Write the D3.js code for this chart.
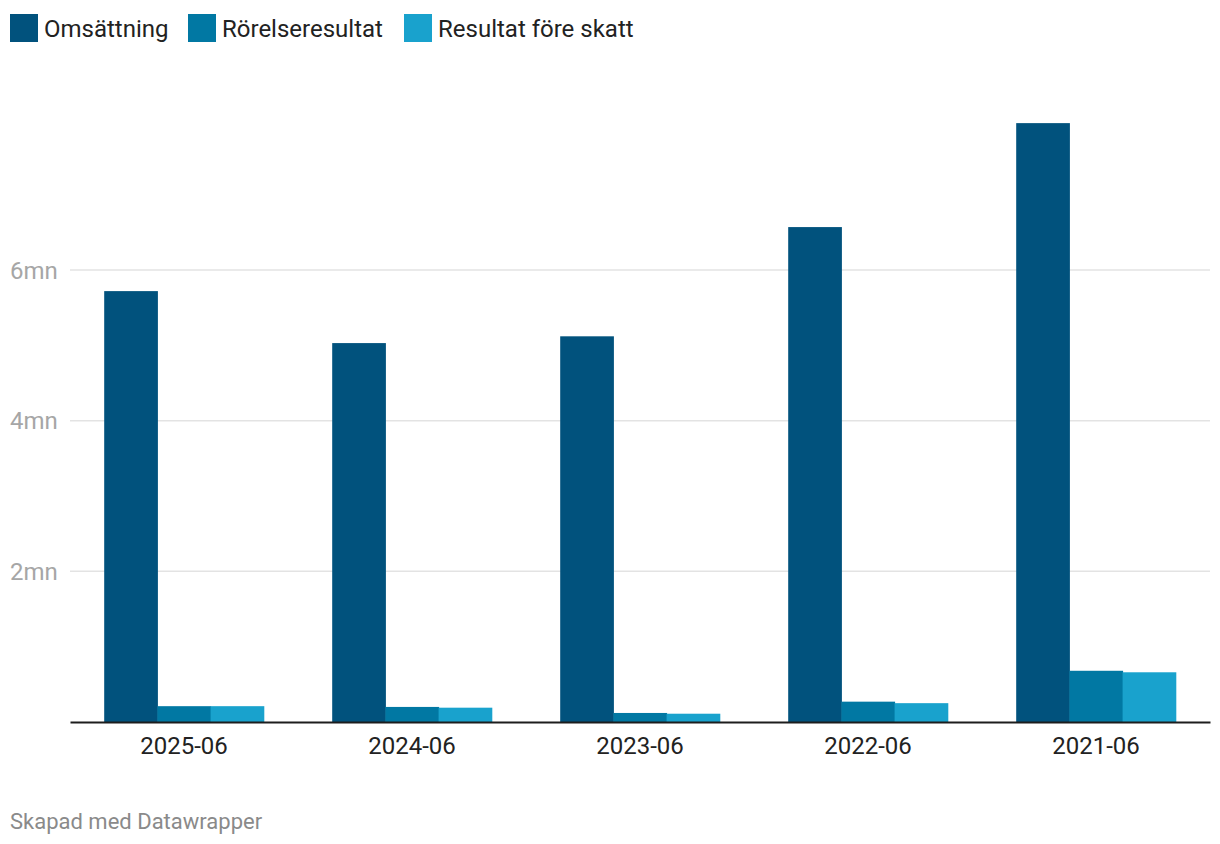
<!DOCTYPE html>
<html>
<head>
<meta charset="utf-8">
<script src="https://cdnjs.cloudflare.com/ajax/libs/d3/7.8.5/d3.min.js"></script>
<style>
  body { margin: 0; background: #fff; font-family: Roboto, "Noto Sans", sans-serif; }
</style>
</head>
<body>
<div id="chart"></div>
<script>
// data, values in millions
var periods = ["2025-06", "2024-06", "2023-06", "2022-06", "2021-06"]
var seriesNames = ["Omsättning", "Rörelseresultat", "Resultat före skatt"]
var omsattning = [5.72, 5.03, 5.12, 6.57, 7.95]
var rorelseresultat = [0.21, 0.20, 0.12, 0.27, 0.68]
var resultatForeSkatt = [0.21, 0.19, 0.11, 0.25, 0.66]
var yTicks = [2, 4, 6]
var colors = ["#01527d", "#0178a3", "#19a2cd"]

var chartWidth = 1220
var chartHeight = 844
var margin = { left: 70, right: 10, top: 119, bottom: 122 }

var svg = d3.select("#chart")
  .append("svg")
  .attr("width", chartWidth)
  .attr("height", chartHeight)

var seriesValues = [omsattning, rorelseresultat, resultatForeSkatt]
var data = periods.map(function(p, i) {
  return { period: p, values: seriesValues.map(function(s) { return s[i]; }) };
});

var baseY = chartHeight - margin.bottom
var x = d3.scaleBand()
  .domain(periods)
  .range([margin.left, chartWidth - margin.right])
  .paddingInner(0.3)
  .paddingOuter(0.15)

var xSub = d3.scaleBand()
  .domain(d3.range(seriesNames.length))
  .range([0, x.bandwidth()])

var y = d3.scaleLinear()
  .domain([0, 8])
  .range([baseY, baseY - 8 * 75.33])

// gridlines + y labels
var grid = svg.append("g")
grid.selectAll("line")
  .data(yTicks)
  .enter()
  .append("line")
  .attr("x1", margin.left)
  .attr("x2", chartWidth - margin.right)
  .attr("y1", function(d) { return y(d); })
  .attr("y2", function(d) { return y(d); })
  .attr("stroke", "#e3e3e3")
  .attr("stroke-width", 1.5)

grid.selectAll("text")
  .data(yTicks)
  .enter()
  .append("text")
  .attr("x", 10)
  .attr("y", function(d) { return y(d); })
  .attr("dy", "0.36em")
  .style("font-size", "24px")
  .style("fill", "#a6a6a6")
  .text(function(d) { return d + "mn"; })

// bars
var groups = svg.selectAll(".group")
  .data(data)
  .enter()
  .append("g")
  .attr("class", "group")
  .attr("transform", function(d) { return "translate(" + x(d.period) + ",0)"; })

groups.selectAll("rect")
  .data(function(d) { return d.values; })
  .enter()
  .append("rect")
  .attr("x", function(d, i) { return xSub(i); })
  .attr("y", function(d) { return y(d); })
  .attr("width", xSub.bandwidth() + 0.5)
  .attr("height", function(d) { return baseY - y(d); })
  .style("fill", function(d, i) { return colors[i]; })

// baseline + x labels
var xAxis = d3.axisBottom(x).tickSize(0).tickPadding(15)
var xg = svg.append("g")
  .attr("transform", "translate(0," + baseY + ")")
  .call(xAxis)
xg.select(".domain").attr("stroke", "#1d1d1d").attr("stroke-width", 2)
xg.selectAll("text")
  .style("font-family", "Roboto, sans-serif")
  .style("font-size", "24px")
  .style("fill", "#222")

// legend
var legendX = [10, 188, 404]
var legend = svg.selectAll(".legend")
  .data(seriesNames)
  .enter()
  .append("g")
  .attr("class", "legend")
  .attr("transform", function(d, i) { return "translate(" + legendX[i] + ",14)"; })

legend.append("rect")
  .attr("width", 28)
  .attr("height", 28)
  .style("fill", function(d, i) { return colors[i]; })

legend.append("text")
  .attr("x", 34)
  .attr("y", 14)
  .attr("dy", "0.36em")
  .style("font-size", "24px")
  .style("fill", "#222")
  .text(function(d) { return d; })

// footer
svg.append("text")
  .attr("x", 10)
  .attr("y", 829)
  .style("font-size", "22px")
  .style("fill", "#8a8a8a")
  .text("Skapad med Datawrapper")
</script>
</body>
</html>
